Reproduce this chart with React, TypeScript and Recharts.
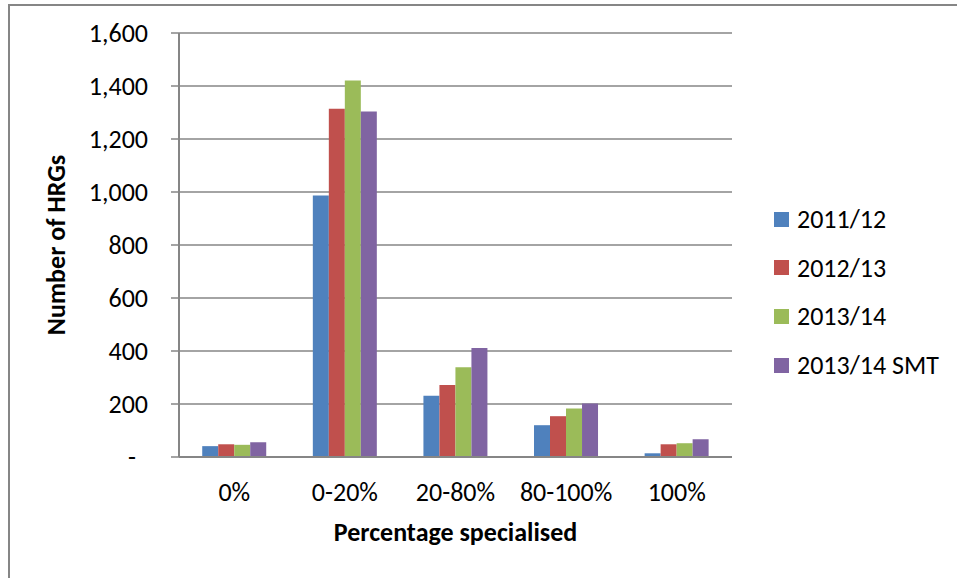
import React from 'react';
import { BarChart, Bar, XAxis, YAxis, CartesianGrid, Label } from 'recharts';

const categories = ['0%', '0-20%', '20-80%', '80-100%', '100%'];
const series2011 = [41, 987, 231, 120, 14];
const series2012 = [48, 1314, 272, 154, 48];
const series2013 = [46, 1421, 339, 183, 52];
const series2013smt = [56, 1304, 411, 202, 67];
const seriesNames = ['2011/12', '2012/13', '2013/14', '2013/14 SMT'];
const seriesKeys = ['s2011', 's2012', 's2013', 's2013smt'];
const seriesColors = ['#4F81BD', '#C0504D', '#9BBB59', '#8064A2'];
const yTicks = [0, 200, 400, 600, 800, 1000, 1200, 1400, 1600];

const data = categories.map((c, i) => ({
  cat: c,
  s2011: series2011[i],
  s2012: series2012[i],
  s2013: series2013[i],
  s2013smt: series2013smt[i],
}));

const FONT = 'Calibri, Carlito, Lato, sans-serif';
const FS = 26;
const GRAY = '#868686';

const YTick = (props: any) => {
  const { x, y, payload } = props;
  const v = payload.value;
  const label = v === 0 ? '-' : v.toLocaleString('en-US');
  return (
    <text x={v === 0 ? x - 12 : x} y={y + 9} textAnchor="end" fill="#000" fontSize={FS} fontFamily={FONT}>
      {label}
    </text>
  );
};

const XTick = (props: any) => {
  const { x, y, payload } = props;
  return (
    <text x={x} y={y + 44} textAnchor="middle" fill="#000" fontSize={FS} fontFamily={FONT}>
      {payload.value}
    </text>
  );
};

export default function App() {
  return (
    <div style={{ position: 'absolute', left: 0, top: 0, width: 957, height: 578, overflow: 'hidden', background: '#fff' }}>
      <div
        style={{
          position: 'absolute',
          left: 8,
          top: 4,
          width: 1000,
          height: 700,
          borderTop: `2px solid ${GRAY}`,
          borderLeft: `2px solid ${GRAY}`,
        }}
      />
      <div style={{ position: 'absolute', left: 0, top: 0 }}>
        <BarChart
          width={957}
          height={578}
          data={data}
          margin={{ top: 33, right: 225, bottom: 0, left: 0 }}
          barCategoryGap="21%"
          barGap={0}
        >
          <CartesianGrid vertical={false} stroke={GRAY} strokeWidth={1.5} />
          <XAxis
            dataKey="cat"
            height={121}
            tickLine={false}
            tickSize={0}
            tickMargin={0}
            axisLine={{ stroke: GRAY, strokeWidth: 2 }}
            tick={<XTick />}
            interval={0}
          >
            <Label
              value="Percentage specialised"
              position="center"
              dy={14}
              fill="#000"
              fontSize={FS}
              fontWeight="bold"
              fontFamily={FONT}
            />
          </XAxis>
          <YAxis
            width={179}
            domain={[0, 1600]}
            ticks={yTicks}
            interval={0}
            tickSize={8}
            tickMargin={23}
            tickLine={{ stroke: GRAY, strokeWidth: 1.5 }}
            axisLine={{ stroke: GRAY, strokeWidth: 2 }}
            tick={<YTick />}
          >
            <Label
              value="Number of HRGs"
              position="center"
              angle={-90}
              dx={-34}
              fill="#000"
              fontSize={FS}
              fontWeight="bold"
              fontFamily={FONT}
            />
          </YAxis>
          {seriesKeys.map((k, i) => (
            <Bar key={k} dataKey={k} name={seriesNames[i]} fill={seriesColors[i]} isAnimationActive={false} />
          ))}
        </BarChart>
      </div>
      <div style={{ position: 'absolute', left: 774, top: 195, fontFamily: FONT, fontSize: FS, color: '#000' }}>
        {seriesNames.map((n, i) => (
          <div key={n} style={{ position: 'relative', height: 48.6, display: 'flex', alignItems: 'center' }}>
            <span style={{ display: 'inline-block', width: 15, height: 15, background: seriesColors[i], marginRight: 8 }} />
            <span style={{ whiteSpace: 'nowrap' }}>{n}</span>
          </div>
        ))}
      </div>
    </div>
  );
}
